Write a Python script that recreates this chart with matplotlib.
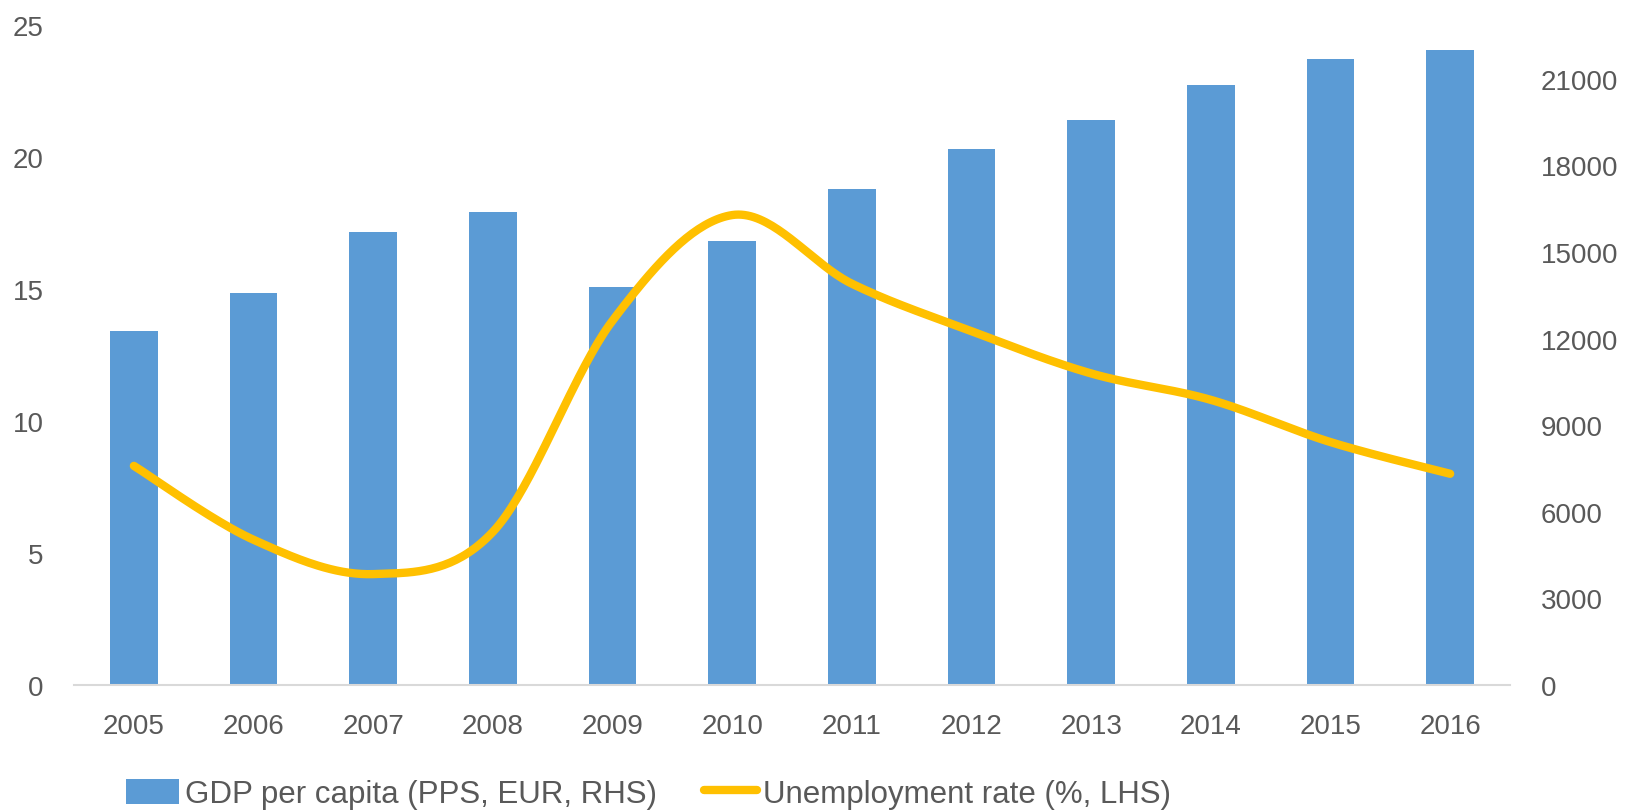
import numpy as np
import matplotlib
matplotlib.use("Agg")
import matplotlib.pyplot as plt
from matplotlib.lines import Line2D
from matplotlib.patches import Patch

years = ["2005", "2006", "2007", "2008", "2009", "2010",
         "2011", "2012", "2013", "2014", "2015", "2016"]
gdp_pps = [12270, 13570, 15680, 16380, 13780, 15370,
           17170, 18580, 19580, 20780, 21690, 21990]
unemployment = [8.3, 5.5, 4.2, 5.8, 13.8, 17.8,
                15.2, 13.4, 11.8, 10.8, 9.2, 8.0]

bar_color = "#5B9BD5"
line_color = "#FFC000"
text_color = "#595959"

plt.rcParams["font.family"] = ["Liberation Sans Narrow", "Liberation Sans", "DejaVu Sans"]


def smooth_line(xs, ys, steps=40):
    # Excel-style smoothed line: Catmull-Rom as cubic Bezier segments
    xs = np.asarray(xs, float)
    ys = np.asarray(ys, float)
    px = np.concatenate([[xs[0]], xs, [xs[-1]]])
    py = np.concatenate([[ys[0]], ys, [ys[-1]]])
    out_x, out_y = [], []
    t = np.linspace(0, 1, steps)
    for i in range(1, len(px) - 2):
        p0 = np.array([px[i], py[i]])
        p3 = np.array([px[i + 1], py[i + 1]])
        c1 = p0 + (p3 - np.array([px[i - 1], py[i - 1]])) / 6
        c2 = p3 - (np.array([px[i + 2], py[i + 2]]) - p0) / 6
        pts = ((1 - t)[:, None] ** 3 * p0 + 3 * ((1 - t) ** 2 * t)[:, None] * c1
               + 3 * ((1 - t) * t ** 2)[:, None] * c2 + (t ** 3)[:, None] * p3)
        out_x.extend(pts[:, 0])
        out_y.extend(pts[:, 1])
    return out_x, out_y


fig = plt.figure(figsize=(16.42, 8.12), dpi=100)
ax = fig.add_axes([0.0451, 0.1552, 0.8745, 0.8128])
ax2 = ax.twinx()

x = np.arange(len(years))

# bars on the right axis, line on the left axis (drawn on top)
ax2.bar(x, gdp_pps, width=0.4, color=bar_color, zorder=2)
ax2.set_ylim(0, 22860)
ax2.set_yticks(np.arange(0, 21001, 3000))

sx, sy = smooth_line(x, unemployment)
ax.plot(sx, sy, color=line_color, linewidth=6, solid_capstyle="round", zorder=5)
ax.set_ylim(0, 25)
ax.set_yticks(np.arange(0, 26, 5))
ax.set_xlim(-0.5, 11.5)
ax.set_xticks(x)
ax.set_xticklabels(years)

ax.set_zorder(ax2.get_zorder() + 1)
ax.patch.set_visible(False)

for a in (ax, ax2):
    for s in a.spines.values():
        s.set_visible(False)
    a.tick_params(length=0, labelsize=20, colors=text_color)
ax.spines["bottom"].set_visible(True)
ax.spines["bottom"].set_color("#D9D9D9")
ax.spines["bottom"].set_linewidth(1.5)
ax.tick_params(axis="y", pad=22)
ax.tick_params(axis="x", pad=20)
ax2.tick_params(axis="y", pad=22)

handles = [
    Patch(facecolor=bar_color, edgecolor="none", label="GDP per capita (PPS, EUR, RHS)"),
    Line2D([0], [0], color=line_color, linewidth=6, solid_capstyle="round",
           label="Unemployment rate (%, LHS)"),
]
fig.legend(handles=handles, loc="center", bbox_to_anchor=(0.395, 0.021), ncol=2,
           frameon=False, fontsize=22.5, labelcolor=text_color, handlelength=1.7,
           handleheight=0.85, handletextpad=0.2, columnspacing=1.5)

fig.savefig("out.png", dpi=100)
